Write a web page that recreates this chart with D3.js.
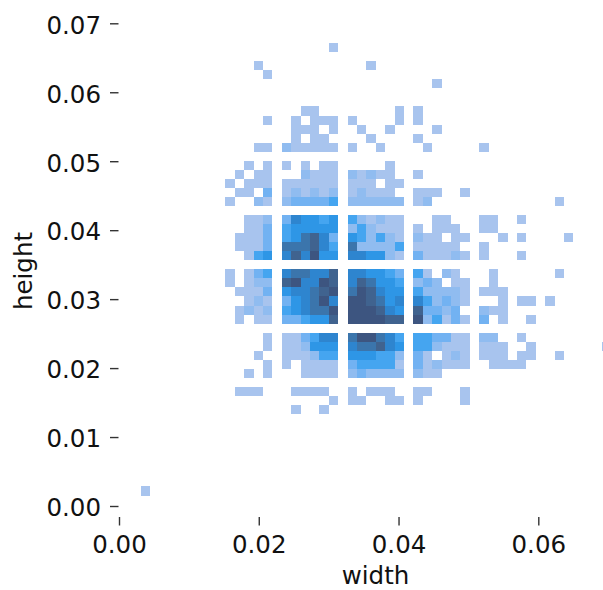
<!DOCTYPE html>
<html><head><meta charset="utf-8">
<script src="https://cdn.jsdelivr.net/npm/d3@7"></script>
<style>html,body{margin:0;padding:0;background:#fff}svg{display:block}</style>
</head><body><svg id="c" width="603" height="590"></svg>
<script>
// histogram bins: [row, first column, [levels...]]; level 0 = empty
const cellsTop = [
 [-25,5,[1]],[-23,-3,[1]],[-23,9,[1]],[-22,-2,[1]],[-21,16,[1]],
 [-18,2,[1,1]],[-18,12,[1,0,1]],
 [-17,-2,[1]],[-17,1,[1,0,1,1,1]],[-17,7,[1]],[-17,12,[1,0,1]],
 [-16,1,[1,1,1,0,1]],[-16,8,[1]],[-16,11,[1]],[-16,16,[1]],
 [-15,1,[1,0,1,1]],[-15,9,[1]],[-15,14,[1]],
 [-14,-3,[1,1]],[-14,0,[2,1,1,1,1,1]],[-14,7,[1]],[-14,10,[1]],[-14,15,[1]],[-14,21,[1]],
 [-12,-4,[1,0,1]],[-12,0,[1,0,1,0,1,1]],[-12,11,[1]],
 [-11,-5,[1,0,1,1]],[-11,2,[2,1,1,1]],[-11,7,[2,1,2,1,1]],[-11,14,[1]],
 [-10,-6,[1,0,1,1,1]],[-10,0,[1,1,1,1,1,1]],[-10,7,[1,1,1,0,1,1]],
 [-9,-5,[1,1,0,3]],[-9,0,[1,2,1,2,1,2]],[-9,7,[1,2,1,1,1]],[-9,14,[1,1,1]],[-9,19,[1]],
 [-8,-6,[1,0,0,2,1]],[-8,0,[2,3,3,3,3,4]],[-8,7,[2,2,2,2,2,2]],[-8,14,[1,2]],[-8,29,[1]]
];
const cellsUpperMiddle = [
 [-6,-4,[1,1,2]],[-6,0,[3,6,5,5,4,5]],[-6,7,[4,2,1,2,1,1]],[-6,16,[1,1]],[-6,21,[1,1]],[-6,25,[1]],
 [-5,-4,[1,1,3]],[-5,0,[4,5,5,5,5,5]],[-5,7,[2,4,2,1,1,1]],[-5,14,[1,0,1,1,1]],[-5,21,[1,1]],
 [-4,-5,[1,1,1,3]],[-4,0,[4,5,7,8,6,3]],[-4,7,[5,4,2,4,2,1]],[-4,14,[2,1,1,0,1,1]],[-4,23,[1]],[-4,25,[1]],[-4,30,[1]],
 [-3,-5,[1,1,1,3]],[-3,0,[7,7,7,8,6,4]],[-3,7,[7,2,2,2,2,4]],[-3,14,[1,1,1,1,1]],[-3,21,[1]],
 [-2,-4,[1,4,5]],[-2,0,[6,8,6,9,5,5]],[-2,7,[6,6,5,5,2,1]],[-2,14,[3,1,1,1,2,1]],[-2,21,[1]],[-2,25,[1]]
];
const cellsLowerMiddle = [
 [0,-6,[1,0,1,3,4]],[0,0,[6,7,7,6,6,8]],[0,7,[6,6,5,5,4,3]],[0,14,[4,1,0,2,1]],[0,22,[1]],[0,29,[1]],
 [1,-6,[1,0,1,2,2]],[1,0,[8,9,6,6,9,8]],[1,7,[6,8,7,5,5,4]],[1,14,[2,3,2,0,1,1]],[1,22,[1]],
 [2,-5,[1,1,1,3]],[2,0,[5,6,6,7,8,9]],[2,7,[7,9,8,6,5,5]],[2,14,[4,2,2,2,2,1]],[2,21,[1,1,1]],
 [3,-4,[1,2,1]],[3,0,[3,5,6,7,9,6]],[3,7,[9,9,8,7,5,6]],[3,14,[6,4,2,3,2,1]],[3,23,[1]],[3,25,[1,1]],[3,28,[1]],
 [4,-5,[1,2,1,2]],[4,0,[4,5,6,7,7,9]],[4,7,[9,9,9,8,6,5]],[4,14,[8,3,3,2,3]],[4,21,[2,1,1]],
 [5,-5,[1,0,1,1]],[5,0,[3,3,4,5,5,8]],[5,7,[9,9,9,9,8,8]],[5,14,[9,2,4,1,3,1]],[5,21,[3,0,1]],[5,26,[1]]
];
const cellsBottom = [
 [7,-2,[1]],[7,0,[1,1,3,4,6,6]],[7,7,[7,9,9,7,6,4]],[7,14,[4,4,3,3,1,1]],[7,21,[2,2]],[7,25,[1]],
 [8,-2,[1]],[8,0,[1,1,2,5,5,5]],[8,7,[6,7,7,8,6,5]],[8,14,[4,4,2,1,1,1]],[8,21,[1,1,1]],[8,26,[1]],[8,34,[1]],
 [9,-3,[1]],[9,0,[1,1,1,2,4,4]],[9,7,[5,5,5,4,4,2]],[9,14,[3,1,0,1,2,1]],[9,21,[1,1,1]],[9,25,[1,1]],[9,29,[1]],
 [10,-2,[1]],[10,0,[1,0,1,1,1,1]],[10,7,[3,4,4,4,4,1]],[10,14,[3,1,2,1,1,1]],[10,22,[1,1,1,1]],
 [11,-4,[1,0,1]],[11,2,[1,1,1,1]],[11,7,[2,3,2,2,2,2]],[11,14,[2,1,1]],
 [13,-5,[1,1,1]],[13,1,[1,1,1,1]],[13,7,[1,0,1,1,1]],[13,14,[1,1]],[13,19,[1]],
 [14,5,[1]],[14,7,[1,1]],[14,11,[1,1]],[14,14,[1]],[14,19,[1]],
 [15,1,[1]],[15,4,[1]],
 [24,-15,[1]]
];
const xTicks = [0, 0.02, 0.04, 0.06];
const yTicks = [0, 0.01, 0.02, 0.03, 0.04, 0.05, 0.06, 0.07];
const levelStops = [1,2,3,4,5,6,7,8,9];
const levelColors = ["#a8c4ee","#90bcf0","#72b2f2","#45a5f0","#2f96e6","#2f85cf","#3a74ac","#40648f","#3e5580"];
const binWidth = 0.001346, binHeight = 0.001312, binX0 = 0.02329, binY0 = 0.03432;

const svg = d3.select("#c");
const defs = svg.append("defs");
defs.append("filter").attr("id","soft").attr("x","-5%").attr("y","-5%").attr("width","110%").attr("height","110%")
  .append("feGaussianBlur").attr("stdDeviation",0.45);
const x = d3.scaleLinear().domain([0,0.06]).range([119,538.3]);
const y = d3.scaleLinear().domain([0,0.07]).range([506,23.3]);
const colour = d3.scaleLinear().domain(levelStops).range(levelColors);

const bins = [];
[cellsTop,cellsUpperMiddle,cellsLowerMiddle,cellsBottom].forEach(group =>
  group.forEach(([r,c0,vals]) => vals.forEach((v,i) => { if(v) bins.push({r,c:c0+i,v}); })));

svg.append("g").attr("filter","url(#soft)").selectAll("rect").data(bins).join("rect")
  .attr("x",d=>x(binX0+binWidth*d.c))
  .attr("y",d=>y(binY0-binHeight*d.r))
  .attr("width",d=>x(binX0+binWidth*(d.c+1))-x(binX0+binWidth*d.c))
  .attr("height",d=>y(binY0-binHeight*(d.r+1))-y(binY0-binHeight*d.r))
  .attr("fill",d=>colour(d.v))
  .attr("shape-rendering","crispEdges");

const font = "'DejaVu Sans'", size = "24.5px";
const gx = svg.append("g").attr("transform","translate(0,517)")
  .call(d3.axisBottom(x).tickValues(xTicks).tickFormat(d3.format(".2f")).tickSize(8.5).tickPadding(10.4));
const gy = svg.append("g").attr("transform","translate(118.5,0)")
  .call(d3.axisLeft(y).tickValues(yTicks).tickFormat(d3.format(".2f")).tickSize(8.5).tickPadding(9));
[gx,gy].forEach(g=>{
  g.select(".domain").remove();
  g.selectAll("line").attr("stroke","#333").attr("stroke-width",1.4);
  g.selectAll("text").attr("fill","#111").style("font-family",font).style("font-size",size);
});
gy.selectAll("text").attr("dy","0.4em");
svg.append("text").attr("x",375.5).attr("y",584).attr("text-anchor","middle").attr("fill","#111")
  .style("font-family",font).style("font-size",size).text("width");
svg.append("text").attr("transform","translate(32,271) rotate(-90)").attr("text-anchor","middle").attr("fill","#111")
  .style("font-family",font).style("font-size",size).text("height");
</script></body></html>
